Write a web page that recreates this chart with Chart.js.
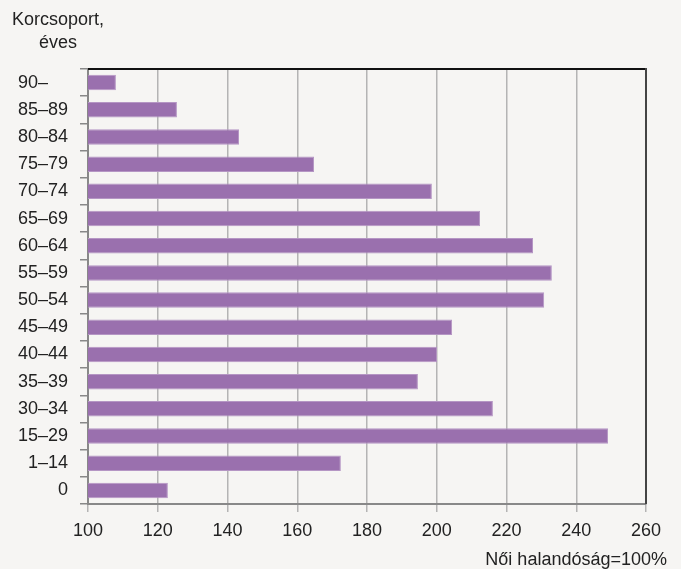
<!DOCTYPE html>
<html>
<head>
<meta charset="utf-8">
<script src="https://cdn.jsdelivr.net/npm/chart.js@4"></script>
<style>
  body { margin: 0; background: #f6f5f3; }
  #wrap { width: 681px; height: 569px; }
</style>
</head>
<body>
<div id="wrap"><canvas id="barchart"></canvas></div>
<script>
const categories = ['90–\u2007\u2007', '85–89', '80–84', '75–79', '70–74', '65–69', '60–64', '55–59',
  '50–54', '45–49', '40–44', '35–39', '30–34', '15–29', '1–14', '0'];
const values = [108, 125.5, 143.3, 164.8, 198.6, 212.4, 227.6, 233, 230.8, 204.4, 200.1, 194.6, 216.1, 249.1, 172.5, 122.9];
const xTicks = [100, 120, 140, 160, 180, 200, 220, 240, 260];

const FONT = "'Liberation Sans', Arial, sans-serif";

// frame on top/right + the two loose captions
const extras = {
  id: 'extras',
  afterDraw(chart) {
    const c = chart.ctx, a = chart.chartArea;
    c.save();
    c.lineWidth = 2;
    c.strokeStyle = '#111';
    c.beginPath(); c.moveTo(a.left, a.top); c.lineTo(a.right, a.top); c.stroke();
    c.strokeStyle = '#444';
    c.beginPath(); c.moveTo(a.right, a.top - 1); c.lineTo(a.right, a.bottom); c.stroke();
    c.fillStyle = '#222';
    c.font = '18px ' + FONT;
    c.textAlign = 'center';
    c.textBaseline = 'middle';
    c.fillText('Korcsoport,', 58, 20);
    c.fillText('éves', 58, 43);
    c.textAlign = 'right';
    c.fillText('Női halandóság=100%', 667, 560);
    c.restore();
  }
};

const ctx = document.getElementById('barchart');
const barchart = new Chart(ctx, {
  type: 'bar',
  data: {
    labels: categories,
    datasets: [{
      data: values,
      backgroundColor: '#9a70ae',
      borderColor: '#b596c4',
      borderWidth: 1,
      categoryPercentage: 1,
      barPercentage: 0.57
    }]
  },
  options: {
    indexAxis: 'y',
    responsive: true,
    maintainAspectRatio: false,
    animation: false,
    layout: { padding: { top: 69, right: 35, left: 0, bottom: 0 } },
    plugins: { legend: { display: false }, tooltip: { enabled: false } },
    scales: {
      x: {
        min: 100,
        max: 260,
        afterBuildTicks: s => { s.ticks = xTicks.map(v => ({ value: v })); },
        ticks: { color: '#222', font: { family: FONT, size: 18 }, padding: 8 },
        grid: { color: '#b4b4b4', lineWidth: 1.5, tickLength: 8 },
        border: { color: '#888', width: 2 },
        afterFit: s => { s.height = 65; }
      },
      y: {
        ticks: { color: '#222', font: { family: FONT, size: 18 }, padding: 12 },
        grid: { offset: true, drawOnChartArea: false, color: '#888', lineWidth: 1.5, tickLength: 8 },
        border: { color: '#888', width: 2 },
        afterFit: s => { s.width = 88; }
      }
    }
  },
  plugins: [extras]
});
</script>
</body>
</html>
